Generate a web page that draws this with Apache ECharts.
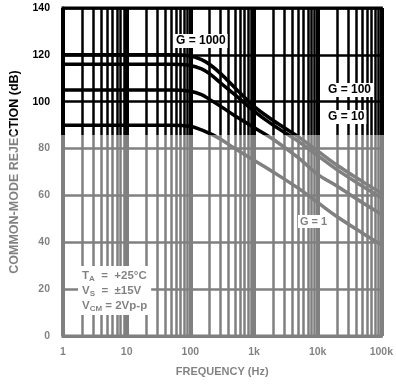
<!DOCTYPE html>
<html>
<head>
<meta charset="utf-8">
<script src="https://cdn.jsdelivr.net/npm/echarts@6/dist/echarts.min.js"></script>
<style>
  html, body { margin: 0; padding: 0; background: #fff; }
  #chart { width: 396px; height: 384px; }
</style>
</head>
<body>
<div id="chart"></div>
<script>
// Frequency points (Hz) shared by all gain curves
const freqs = [1, 10, 50, 100, 150, 200, 300, 500, 1000, 2000, 5000, 10000, 20000, 50000, 100000];

// Common-mode rejection (dB) for each gain setting
const cmrG1000 = [120, 120, 120, 119.5, 118, 116, 112, 106, 98, 92, 85, 79, 73, 66, 61];
const cmrG100  = [116, 116, 116, 115.5, 114, 112, 108, 103, 96, 90, 83, 77, 71, 64, 59];
const cmrG10   = [105, 105, 105, 104.5, 103, 101, 98, 94, 89, 84, 76, 69, 64, 57, 52];
const cmrG1    = [90, 90, 90, 89.5, 88, 86.5, 84, 80, 75, 70, 63, 57, 51, 44, 39];

// Axis tick labels
const xTickLabels = { 1: '1', 10: '10', 100: '100', 1000: '1k', 10000: '10k', 100000: '100k' };
const yTicks = [0, 20, 40, 60, 80, 100, 120, 140];

// Log-decade minor gridlines (2..9 within each decade)
const minorFreqs = [];
for (let d = 1; d < 100000; d *= 10) {
  for (let m = 2; m <= 9; m++) minorFreqs.push(m * d);
}

const pair = (vals) => freqs.map((f, i) => [f, vals[i]]);

const FONT = "'Liberation Sans', Arial, sans-serif";
const chart = echarts.init(document.getElementById('chart'), null, { renderer: 'canvas' });

const curveStyle = { color: '#000', width: 3.5 };

chart.setOption({
  animation: false,
  backgroundColor: '#fff',
  grid: {
    left: 63, right: 10, top: 8, bottom: 48,
    show: true, borderColor: '#000', borderWidth: 3, backgroundColor: 'transparent'
  },
  xAxis: {
    type: 'log', logBase: 10, min: 1, max: 100000,
    name: 'FREQUENCY (Hz)', nameLocation: 'middle', nameGap: 30,
    nameTextStyle: { fontFamily: FONT, fontWeight: 'bold', fontSize: 11, color: '#000' },
    axisLine: { show: true, lineStyle: { color: '#000', width: 3 } },
    axisTick: { show: false },
    axisLabel: {
      margin: 11, fontFamily: FONT, fontWeight: 'bold', fontSize: 10.5, color: '#000',
      formatter: (v) => xTickLabels[Math.round(v)] || ''
    },
    splitLine: { show: true, lineStyle: { color: '#000', width: 4 } }
  },
  yAxis: {
    type: 'value', min: 0, max: 140, interval: 20,
    name: 'COMMON-MODE REJECTION (dB)', nameLocation: 'middle', nameGap: 42, nameRotate: 90,
    nameTextStyle: { fontFamily: FONT, fontWeight: 'bold', fontSize: 12.5, color: '#000' },
    axisLine: { show: true, lineStyle: { color: '#000', width: 3 } },
    axisTick: { show: false },
    axisLabel: {
      margin: 13, fontFamily: FONT, fontWeight: 'bold', fontSize: 10.5, color: '#000',
      formatter: (v) => (yTicks.includes(v) ? String(v) : '')
    },
    splitLine: { show: true, lineStyle: { color: '#000', width: 2.5 } }
  },
  series: [
    {
      name: 'grid-minor', type: 'line', data: [], silent: true,
      markLine: {
        silent: true, symbol: ['none', 'none'], label: { show: false },
        lineStyle: { color: '#000', width: 2.5, type: 'solid' },
        data: minorFreqs.map((f) => ({ xAxis: f }))
      }
    },
    { name: 'G = 1000', type: 'line', data: pair(cmrG1000), showSymbol: false, smooth: 0.35, lineStyle: curveStyle, z: 5 },
    { name: 'G = 100',  type: 'line', data: pair(cmrG100),  showSymbol: false, smooth: 0.35, lineStyle: curveStyle, z: 5 },
    { name: 'G = 10',   type: 'line', data: pair(cmrG10),   showSymbol: false, smooth: 0.35, lineStyle: curveStyle, z: 5 },
    { name: 'G = 1',    type: 'line', data: pair(cmrG1),    showSymbol: false, smooth: 0.35, lineStyle: curveStyle, z: 5 }
  ],
  graphic: [
    // gain labels
    { type: 'text', x: 174, y: 34, z: 100, style: { text: 'G = 1000', font: `bold 12px ${FONT}`, fill: '#000', backgroundColor: '#fff', padding: [1, 2] } },
    { type: 'text', x: 326, y: 83, z: 100, style: { text: 'G = 100', font: `bold 12px ${FONT}`, fill: '#000', backgroundColor: '#fff', padding: [1, 2] } },
    { type: 'text', x: 326, y: 110, z: 100, style: { text: 'G = 10', font: `bold 12px ${FONT}`, fill: '#000', backgroundColor: '#fff', padding: [1, 2] } },
    { type: 'text', x: 298, y: 215, z: 100, style: { text: 'G = 1', font: `bold 11px ${FONT}`, fill: '#000', backgroundColor: '#fff', padding: [1, 2] } },
    // test conditions
    {
      type: 'text', x: 78, y: 266, z: 100,
      style: {
        text: 'T{s|A}  =  +25°C\nV{s|S}  =  ±15V\nV{s|CM} = 2Vp-p',
        font: `bold 11.5px ${FONT}`, fill: '#000', lineHeight: 15,
        backgroundColor: '#fff', padding: [2, 4],
        rich: { s: { font: `bold 8px ${FONT}`, fill: '#000', verticalAlign: 'bottom', padding: [5, 0, 0, 0] } }
      }
    },
    // lighter printing on the lower part of the sheet
    {
      type: 'rect', z: 1000, silent: true,
      shape: { x: 0, y: 135, width: 396, height: 249 },
      style: { fill: 'rgba(255,255,255,0.5)' }
    }
  ]
});
</script>
</body>
</html>
